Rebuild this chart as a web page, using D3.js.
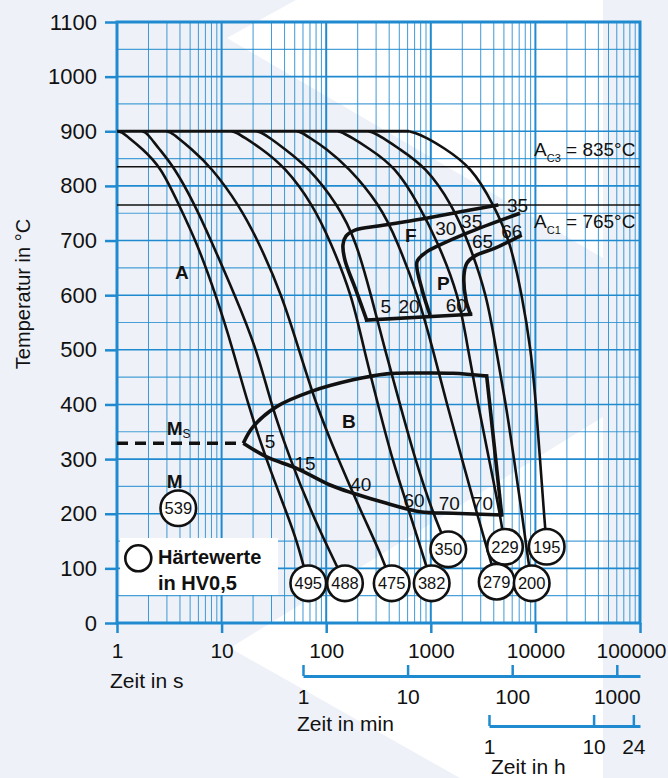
<!DOCTYPE html>
<html><head><meta charset="utf-8">
<script src="https://cdn.jsdelivr.net/npm/d3@7"></script>
<style>
body{margin:0;background:#eef2f8;}
svg{display:block;font-family:"Liberation Sans",Arial,Helvetica,sans-serif;}
</style></head>
<body><svg id="chart" width="668" height="778"></svg>
<script>
// ---------- data ----------
const tempTicks = [0,100,200,300,400,500,600,700,800,900,1000,1100];
const secTicks = [1,10,100,1000,10000,100000];
const minTicks = [1,10,100,1000];
const hourTicks = [1,10,24];
const austenitizingTemp = 900;
const ac3 = 835, ac1 = 765;
const msTemp = 329;

// cooling curves [time s, temperature °C]
const curve495 = [[1.02,900],[1.10,899],[1.30,888],[1.70,870],[2.63,835],[3.91,765],[5.69,700],[8.84,600],[12.85,500],[17.9,400],[26.6,300],[42.2,200],[52.6,150],[67.4,72.7]];
const curve488 = [[1.746,900],[1.86,899],[2.10,888],[2.47,870],[3.51,835],[5.57,765],[7.92,700],[13.4,600],[21.8,500],[29.7,400],[45.1,300],[73.1,200],[108.7,130],[151.2,72.7]];
const curve475 = [[2.987,900],[3.2,899],[3.83,888],[4.99,870],[7.92,835],[14.67,765],[22.3,700],[37.8,600],[54.9,500],[79.9,400],[129.7,300],[220,200],[326.8,130],[422.8,72.7]];
const curve382 = [[12.49,900],[13.5,899],[16.7,888],[23.3,870],[40.4,835],[74.8,765],[108.7,700],[176.5,600],[229.8,500],[312.8,400],[425.7,300],[632.5,200],[823,130],[1020,72.7]];
const curve350 = [[21.66,900],[23.4,899],[29.0,888],[38.6,870],[67.0,835],[129.7,765],[192.7,700],[268.1,600],[364.9,500],[507.7,400],[706.2,300],[1050,200],[1470,134.9]];
const curve279 = [[52.6,900],[56.8,899],[70.0,888],[97.4,870],[161.6,835],[326.8,765],[475.2,700],[754.5,600],[1050,500],[1428,400],[1988,300],[2765,200],[3523,130],[4266,75.6]];
const curve229 = [[129.7,900],[140,899],[176.5,888],[250,870],[460,835],[770,765],[1146,700],[1860,600],[2268,500],[2827,400],[3601,300],[4587,200],[5121,139.6]];
const curve200 = [[254.3,900],[275,899],[349,888],[480,870],[900,835],[1600,765],[2268,700],[3446,600],[4201,500],[5234,400],[6243,300],[7446,200],[8313,130],[9218,72.7]];
const curve195 = [[618.8,900],[690,898],[900,889],[1300,871],[2450,835],[4000,765],[5715,700],[7446,600],[9078,500],[10140,400],[11066,300],[12085,200],[12823,139.6]];
const coolingCurves = [curve495,curve488,curve475,curve382,curve350,curve279,curve229,curve200,curve195];
const hardness = [495,488,475,382,350,279,229,200,195];
const hardnessPos = [[67.4,72.7],[151.2,72.7],[422.8,72.7],[1020,72.7],[1470,134.9],[4266,75.6],[5121,139.6],[9218,72.7],[12823,139.6]];
const martensiteHardness = 539, martensitePos = [3.855,210];

// transformation boundaries
const ferriteStart = [[4419,765],[2370,756],[788,739],[327,727],[188.5,719],[154.6,708],[144.7,692],[151.2,664],[192.7,609],[243.9,554.5]];
const fpBottom = [[243.9,554.5],[2400,565]];
const pearliteStart = [[7126,750],[2370,716],[1224,692],[880,677],[738,661],[818.6,612.6],[982.7,563.7]];
const pearliteEnd = [[7396,710],[4110,686],[2647,672],[2218,659],[2077,637],[2170,591],[2400,565]];
const bainiteStart = [[16.13,329],[19.96,359],[33.6,396],[70.0,423],[180.4,445],[378.7,456],[788,457.5],[1630,457],[3423,452]];
const bainiteRight = [[3423,452],[4763,197.7]];
const bainiteEnd = [[16.13,329],[27.0,304],[52.2,283],[108.7,252.6],[181.6,237.4],[378.7,219],[788,203.7],[1630,200.8],[4763,197.7]];

// percentage labels [text, t, T]
const pctLabels = [["5",29.0,332],["15",62.7,292],["40",214,254],["60",691,225],["70",1500,219],["70",3119,219],
  ["5",371,579],["20",619,579],["60",1753,582],["30",1391,722],["35",2460,734],["65",3119,698],["66",5935,716],["35",6744,764]];
const phaseLabels = [["A",3.585,642],["F",566.7,710],["P",1146,622],["B",141.6,368],["M",2.987,259]];

// ---------- drawing ----------
const svg = d3.select("#chart");
const blue = "#1f8ad0";
const ink = "#111";
const x = d3.scaleLog().domain([1,1e5]).range([117,640]);
const y = d3.scaleLinear().domain([0,1100]).range([623,22]);

svg.append("rect").attr("width",668).attr("height",778).attr("fill","#eef2f8");
svg.append("path").attr("d","M296,0 L603,0 L603,258 L227,38 Z").attr("fill","#ffffff");
svg.append("path").attr("d","M230,648 L603,417 L603,778 L460,778 Z").attr("fill","#ffffff");

const g = svg.append("g");
const minorT = [];
for (let k=0;k<5;k++) for (let m=2;m<=9;m++) minorT.push(m*Math.pow(10,k));
g.selectAll(".vmin").data(minorT).join("line")
  .attr("x1",d=>x(d)).attr("x2",d=>x(d)).attr("y1",y(1100)).attr("y2",y(0))
  .attr("stroke",blue).attr("stroke-width",1).attr("opacity",0.85);
g.selectAll(".vmaj").data(secTicks).join("line")
  .attr("x1",d=>x(d)).attr("x2",d=>x(d)).attr("y1",y(1100)).attr("y2",y(0))
  .attr("stroke",blue).attr("stroke-width",2);
const hGrid = d3.range(50,1100,50);
g.selectAll(".h").data(hGrid).join("line")
  .attr("x1",x(1)).attr("x2",x(1e5)).attr("y1",d=>y(d)).attr("y2",d=>y(d))
  .attr("stroke",blue).attr("stroke-width",d=>d%100===0?1.6:1.2).attr("opacity",d=>d%100===0?1:0.8);

g.append("rect").attr("x",x(1)).attr("y",y(1100)).attr("width",x(1e5)-x(1)).attr("height",y(0)-y(1100))
  .attr("fill","none").attr("stroke",blue).attr("stroke-width",3);

const yAxis = d3.axisLeft(y).tickValues(tempTicks).tickSize(12).tickPadding(8).tickFormat(d3.format("d"));
const ya = svg.append("g").attr("transform",`translate(${x(1)},0)`).call(yAxis);
ya.select(".domain").remove();
ya.selectAll("line").attr("stroke",blue).attr("stroke-width",2.5);
ya.selectAll("text").attr("font-size",22).attr("fill",ink).attr("font-family",null);

const xAxis = d3.axisBottom(x).tickValues(secTicks).tickSize(10).tickPadding(10).tickFormat(d3.format("d"));
const xa = svg.append("g").attr("transform",`translate(0,${y(0)})`).call(xAxis);
xa.select(".domain").remove();
xa.selectAll("line").attr("stroke",blue).attr("stroke-width",2.5);
xa.selectAll("text").attr("font-size",21).attr("fill",ink).attr("font-family",null);
xa.selectAll("text").filter(d=>d===100000).attr("dx",-9);

const xMin = d3.scaleLog().domain([1,1e5/60]).range([x(60),x(1e5)]);
const ma = svg.append("g").attr("transform","translate(0,676)")
  .call(d3.axisBottom(xMin).tickValues(minTicks).tickSizeInner(-11).tickSizeOuter(0).tickPadding(13).tickFormat(d3.format("d")));
ma.select(".domain").attr("stroke",blue).attr("stroke-width",3);
ma.selectAll("line").attr("stroke",blue).attr("stroke-width",2.5);
ma.selectAll("text").attr("font-size",21).attr("fill",ink).attr("font-family",null);

const xHour = d3.scaleLog().domain([1,1e5/3600]).range([x(3600),x(1e5)]);
const ha = svg.append("g").attr("transform","translate(0,726)")
  .call(d3.axisBottom(xHour).tickValues(hourTicks).tickSizeInner(-11).tickSizeOuter(0).tickPadding(13).tickFormat(d3.format("d")));
ha.select(".domain").attr("stroke",blue).attr("stroke-width",3);
ha.selectAll("line").attr("stroke",blue).attr("stroke-width",2.5);
ha.selectAll("text").attr("font-size",21).attr("fill",ink).attr("font-family",null);

svg.append("text").attr("x",110).attr("y",688).attr("font-size",21).attr("fill",ink).text("Zeit in s");
svg.append("text").attr("x",297).attr("y",731).attr("font-size",21).attr("fill",ink).text("Zeit in min");
svg.append("text").attr("x",491).attr("y",774).attr("font-size",21).attr("fill",ink).text("Zeit in h");
svg.append("text").attr("transform","translate(30,294) rotate(-90)").attr("text-anchor","middle")
  .attr("font-size",20).attr("fill",ink).text("Temperatur in °C");

[ac3,ac1].forEach(v=>{
  svg.append("line").attr("x1",x(1)).attr("x2",x(1e5)).attr("y1",y(v)).attr("y2",y(v))
    .attr("stroke",ink).attr("stroke-width",1.6);
});
function acLabel(sub,val,by){
  const t = svg.append("text").attr("x",534).attr("y",by).attr("font-size",19).attr("fill",ink);
  t.append("tspan").text("A");
  t.append("tspan").attr("font-size",11).attr("dy",6).text(sub);
  t.append("tspan").attr("dy",-6).text(" = "+val+"°C");
}
acLabel("C3",ac3,156);
acLabel("C1",ac1,228);

const smooth = d3.line().x(d=>x(d[0])).y(d=>y(d[1])).curve(d3.curveBasis);
const line = d3.line().x(d=>x(d[0])).y(d=>y(d[1])).curve(d3.curveCatmullRom.alpha(0.5));
const lin = d3.line().x(d=>x(d[0])).y(d=>y(d[1]));

svg.append("path").attr("d",lin([[1,austenitizingTemp],[curve195[0][0],austenitizingTemp]]))
  .attr("fill","none").attr("stroke",ink).attr("stroke-width",2.8);

svg.selectAll(".cc").data(coolingCurves).join("path").attr("d",d=>smooth(d))
  .attr("fill","none").attr("stroke",ink).attr("stroke-width",2.6);

[ferriteStart,pearliteStart,pearliteEnd,bainiteStart,bainiteEnd].forEach(p=>{
  svg.append("path").attr("d",line(p)).attr("fill","none").attr("stroke",ink).attr("stroke-width",3.6).attr("stroke-linejoin","round");
});
[fpBottom,bainiteRight].forEach(p=>{
  svg.append("path").attr("d",lin(p)).attr("fill","none").attr("stroke",ink).attr("stroke-width",3.6).attr("stroke-linecap","square");
});
svg.append("path").attr("d",lin([[1,msTemp],[bainiteStart[0][0],msTemp]]))
  .attr("fill","none").attr("stroke",ink).attr("stroke-width",3.6).attr("stroke-dasharray","11,7");

svg.selectAll(".pct").data(pctLabels).join("text")
  .attr("x",d=>x(d[1])).attr("y",d=>y(d[2])).attr("text-anchor","middle").attr("dominant-baseline","central")
  .attr("font-size",19).attr("fill",ink).text(d=>d[0]);
svg.selectAll(".ph").data(phaseLabels).join("text")
  .attr("x",d=>x(d[1])).attr("y",d=>y(d[2])).attr("text-anchor","start").attr("dominant-baseline","central")
  .attr("font-size",19).attr("font-weight","bold").attr("fill",ink).text(d=>d[0]);
const ms = svg.append("text").attr("x",x(2.987)).attr("y",y(344)).attr("font-size",19).attr("font-weight","bold").attr("fill",ink);
ms.append("tspan").text("M");
ms.append("tspan").attr("font-size",12).attr("dy",3).attr("font-weight","normal").text("S");

const hv = hardness.map((h,i)=>({h,p:hardnessPos[i]})).concat([{h:martensiteHardness,p:martensitePos}]);
const cg = svg.selectAll(".hv").data(hv).join("g").attr("transform",d=>`translate(${x(d.p[0])},${y(d.p[1])})`);
cg.append("circle").attr("r",17.8).attr("fill","#fff").attr("stroke",ink).attr("stroke-width",2.6);
cg.append("text").attr("text-anchor","middle").attr("dominant-baseline","central").attr("font-size",16.5)
  .attr("fill",ink).text(d=>d.h);

svg.append("rect").attr("x",120).attr("y",538).attr("width",158).attr("height",57).attr("fill","#fff");
svg.append("circle").attr("cx",138.3).attr("cy",558.3).attr("r",13).attr("fill","#fff").attr("stroke",ink).attr("stroke-width",2.6);
svg.append("text").attr("x",158).attr("y",564).attr("font-size",20).attr("font-weight","bold").attr("fill",ink).text("Härtewerte");
svg.append("text").attr("x",158).attr("y",590).attr("font-size",20).attr("font-weight","bold").attr("fill",ink).text("in HV0,5");
</script></body></html>
